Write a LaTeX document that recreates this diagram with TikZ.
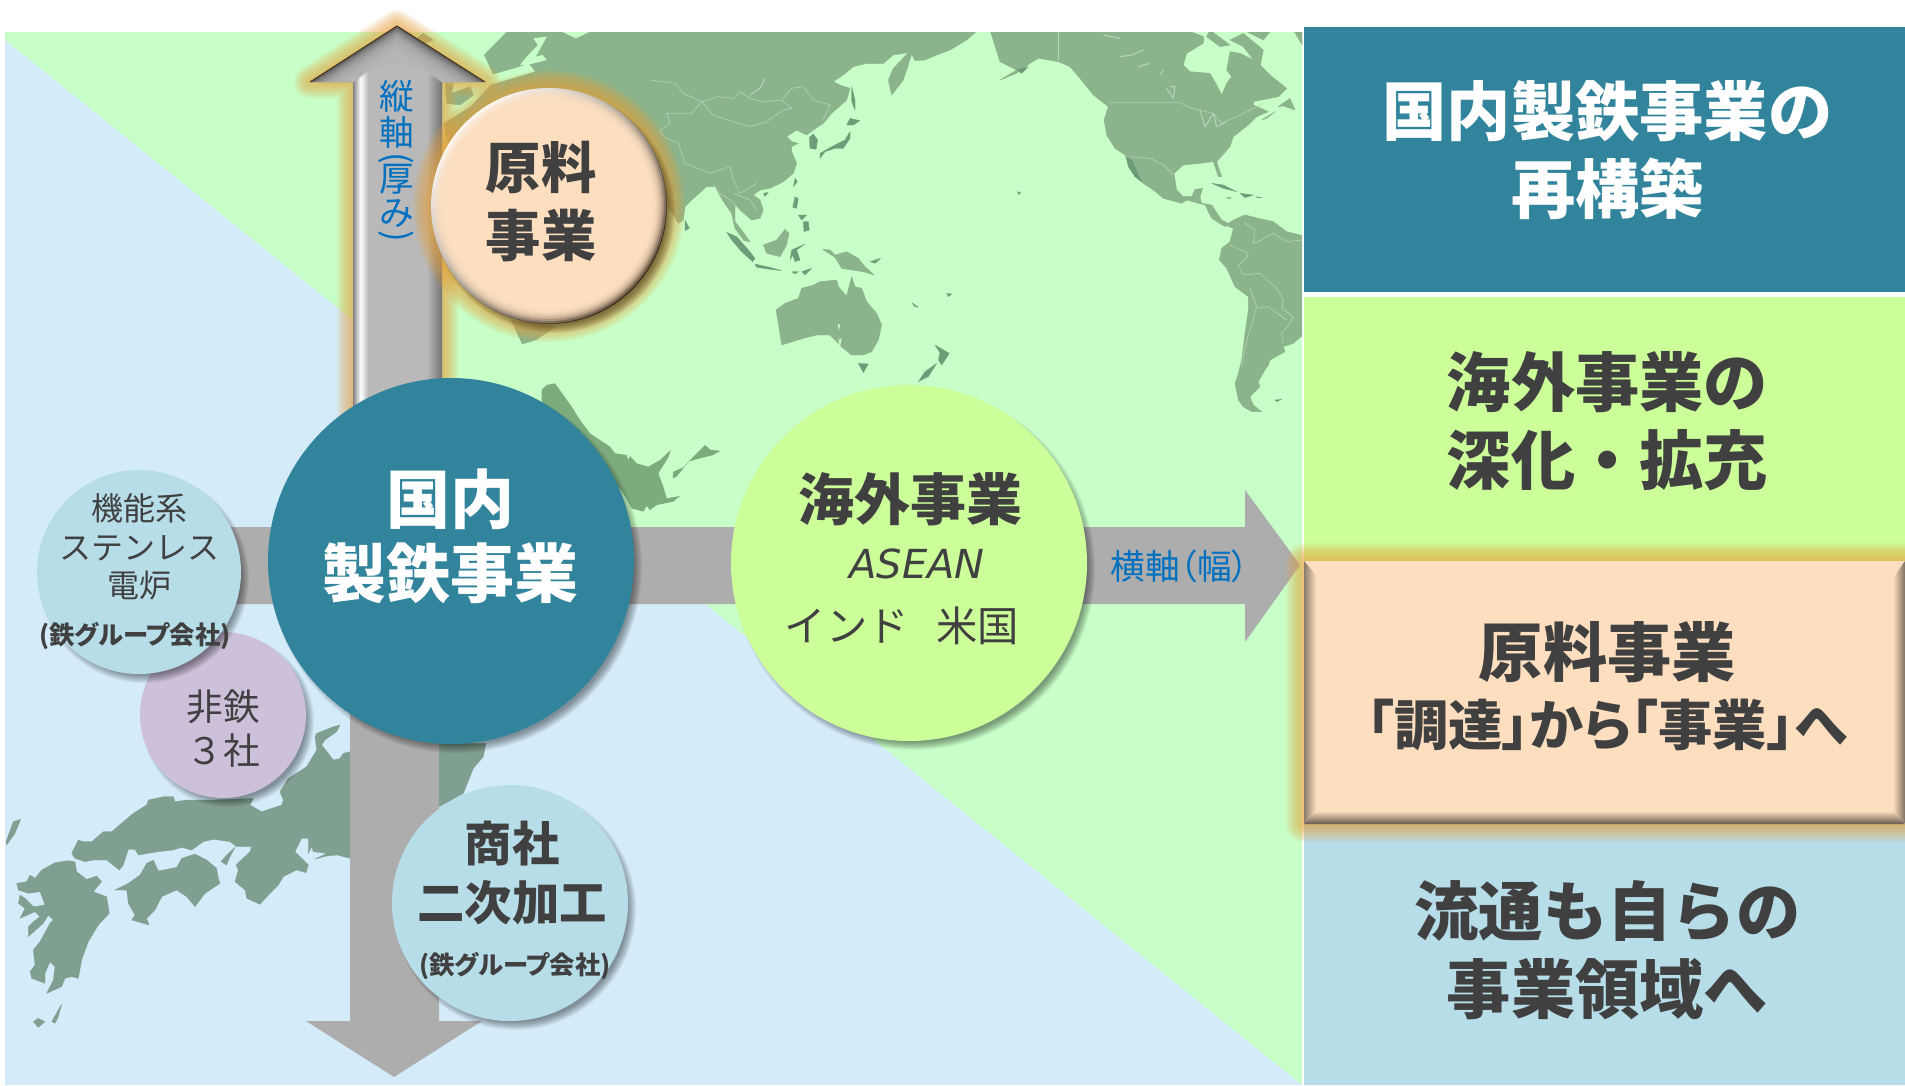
\documentclass[tikz,border=0pt]{standalone}
\usepackage{fontspec}
\newfontfamily\jp{Noto Sans CJK JP}
\newfontfamily\jpp[RawFeature={+palt}]{Noto Sans CJK JP}
\newfontfamily\lat{DejaVu Sans}
\definecolor{bggreen}{HTML}{C8FFC8}
\definecolor{bgblue}{HTML}{D4ECFA}
\definecolor{mapc}{HTML}{8CB48C}
\definecolor{mapd}{HTML}{6C9C78}
\definecolor{mapline}{HTML}{B4D4B4}
\definecolor{mapj}{HTML}{7F9F90}
\definecolor{maph}{HTML}{7CAB7E}
\definecolor{teal}{HTML}{31849B}
\definecolor{lime}{HTML}{CCFF99}
\definecolor{peach}{HTML}{FDDFC0}
\definecolor{iceblue}{HTML}{B7DDE8}
\definecolor{lilac}{HTML}{CCC0DA}
\definecolor{ink}{HTML}{404040}
\definecolor{labelblue}{HTML}{0070C0}
\definecolor{arrowgrey}{HTML}{ADADAD}
\definecolor{arrowlight}{HTML}{B9B9B9}
\definecolor{glowc}{HTML}{E8A038}
\tikzset{
  crop/.style 2 args={x=0.25pt,y=-0.25pt,xshift=#1*0.75pt,yshift=-#2*0.75pt},
  land/.style={fill=mapc,draw=mapc,line width=0.3pt,line join=round},
  isle/.style={fill=mapd,draw=mapd,line width=0.2pt,line join=round},
  hole/.style={fill=bggreen,draw=none},
  border/.style={draw=mapline,line width=0.45pt,line join=round},
  lake/.style={draw=mapline,line width=0.8pt,line join=round},
  jland/.style={fill=mapj,draw=mapj,line width=0.2pt,line join=round},
  disc/.style={circle,minimum size=#1*1.5pt,inner sep=0pt,draw=none},
  lab/.style={inner sep=0pt,align=center,text=ink},
  headA/.style={lab,font=\jp\bfseries\fontsize{48.2}{58.5}\selectfont},
  headW/.style={headA,text=white},
  headM/.style={lab,font=\jp\bfseries\fontsize{42}{42}\selectfont},
  headS/.style={lab,font=\jp\bfseries\fontsize{41.5}{51}\selectfont},
  headC/.style={lab,font=\jp\bfseries\fontsize{35.5}{44}\selectfont},
  small/.style={lab,font=\jp\fontsize{24}{29}\selectfont},
  tiny/.style={lab,font=\jpp\bfseries\fontsize{19}{19}\selectfont},
  axislab/.style={inner sep=0pt,text=labelblue,font=\jp\fontsize{26}{26}\selectfont},
}
\newcommand\softshadow[3]{\foreach \i in {0,...,8}{\fill[black,opacity=.05] ({#1+5},{#2+6}) circle[radius={#3+3-\i}];}}
\newcommand\softglow[3]{\foreach \i in {18,16,...,2}{\fill[glowc,opacity=.11] (#1,#2) circle[radius={#3+\i}];}}
\begin{document}
\begin{tikzpicture}[x=0.75pt,y=-0.75pt]
\useasboundingbox (0,0) rectangle (1905,1085);
\fill[white] (0,0) rectangle (1905,1085);
\fill[bggreen] (5,32) rectangle (1302,1085);
\begin{scope}
\clip (5,32) rectangle (1302,1085);
% Europe and Africa, hidden for the most part
\begin{scope}[x=0.3348pt,y=-0.25pt]
\fill[land] (1135,96) -- (1085,165) -- (1105,222) -- (1150,205) -- (1185,190) -- (1200,215) -- (1100,255) -- (1055,320) -- (995,370) -- (1005,445) -- (1100,700) -- (1300,700) -- (1456,560) -- (1500,96) -- cycle;
\fill[land] (1145,960) -- (1170,1032) -- (1200,1020) -- (1245,980) -- cycle;
\fill[hole] (1195,115) -- (1205,135) -- (1180,170) -- (1165,195) -- (1180,195) -- (1225,180) -- (1215,165) -- (1200,170) -- (1225,110) -- cycle;
\fill[hole] (1260,96) -- (1290,115) -- (1320,96) -- cycle;
\end{scope}
\begin{scope}[crop={270}{15}]
\fill[land] (525,205) -- (550,205) -- (545,235) -- (600,215) -- (610,240) -- (570,270) -- (530,265) -- cycle;
\fill[land] (440,70) -- (460,55) -- (490,75) -- (465,85) -- cycle;
\end{scope}
% East Asia
\begin{scope}[crop={650}{30}]
\fill[land] (0,0) -- (984,0) -- (950,30) -- (900,60) -- (860,75) -- (825,90) -- (795,92) -- (785,72) -- (770,120) -- (760,150) -- (725,195) -- (715,150) -- (730,115) -- (775,68) -- (730,75) -- (700,100) -- (650,100) -- (610,110) -- (580,135) -- (550,155) -- (570,165) -- (600,175) -- (590,210) -- (545,250) -- (520,280) -- (490,300) -- (470,315) -- (440,300) -- (410,320) -- (425,335) -- (445,340) -- (425,350) -- (425,365) -- (440,400) -- (430,430) -- (400,455) -- (360,475) -- (330,480) -- (310,495) -- (330,510) -- (340,540) -- (330,565) -- (305,570) -- (270,540) -- (255,525) -- (255,575) -- (275,600) -- (300,635) -- (282,632) -- (255,595) -- (250,575) -- (245,550) -- (220,515) -- (195,470) -- (170,470) -- (125,510) -- (105,530) -- (100,570) -- (85,580) -- (55,530) -- (0,500) -- cycle;
\fill[isle] (478,322) -- (490,312) -- (503,330) -- (498,358) -- (480,355) -- cycle;
\fill[isle] (605,170) -- (615,210) -- (615,240) -- (605,215) -- cycle;
\fill[isle] (600,265) -- (630,272) -- (610,285) -- (590,285) -- cycle;
\fill[isle] (600,305) -- (600,325) -- (580,355) -- (555,355) -- (525,365) -- (510,385) -- (510,370) -- (545,350) -- (585,330) -- cycle;
\fill[isle] (435,445) -- (442,455) -- (430,470) -- cycle;
\fill[isle] (340,490) -- (355,487) -- (345,500) -- cycle;
\fill[land] (885,35) -- (900,40) -- (900,48) -- cycle;
\draw[border] (0,150) -- (40,155) -- (75,160) -- (100,190) -- (155,215) -- (205,200) -- (250,205) -- (270,185) -- (300,205) -- (340,215) -- (395,210) -- (425,175) -- (460,170) -- (490,210) -- (540,225) -- (520,270);
\draw[border] (155,215) -- (190,255) -- (250,275) -- (300,290) -- (350,275) -- (400,240) -- (425,235) -- (395,210);
\draw[border] (155,215) -- (125,250) -- (50,250) -- (60,280) -- (30,300) -- (40,320) -- (85,340) -- (105,400) -- (180,430) -- (240,410) -- (250,450) -- (270,490) -- (320,460);
\draw[lake] (345,145) -- (330,175) -- (300,195);
\draw[border] (190,465) -- (210,490) -- (240,510) -- (270,540);
\draw[border] (250,490) -- (300,510) -- (320,540);
\end{scope}
% Indonesia and Australia
\begin{scope}[crop={670}{170}]
\fill[isle] (45,150) -- (58,175) -- (45,182) -- cycle;
\fill[isle] (170,187) -- (200,200) -- (235,240) -- (255,265) -- (248,275) -- (215,245) -- (185,210) -- cycle;
\fill[isle] (255,282) -- (300,292) -- (335,302) -- (300,298) -- (260,292) -- cycle;
\fill[isle] (365,305) -- (385,305) -- (375,312) -- cycle;
\fill[isle] (395,305) -- (425,295) -- (405,315) -- cycle;
\fill[land] (280,225) -- (320,210) -- (345,178) -- (357,190) -- (350,225) -- (330,260) -- (290,250) -- cycle;
\fill[isle] (365,240) -- (405,222) -- (380,240) -- (390,270) -- (375,275) -- (368,255) -- (360,270) -- cycle;
\fill[land] (458,238) -- (480,240) -- (495,255) -- (530,245) -- (565,265) -- (585,290) -- (612,315) -- (580,305) -- (545,300) -- (515,295) -- (495,262) -- cycle;
\fill[isle] (600,275) -- (632,265) -- (615,280) -- cycle;
\fill[isle] (375,80) -- (385,85) -- (380,115) -- (368,112) -- cycle;
\fill[isle] (400,155) -- (415,155) -- (418,180) -- (402,185) -- cycle;
\fill[isle] (385,135) -- (410,135) -- (395,150) -- cycle;
\fill[land] (318,420) -- (345,400) -- (385,385) -- (395,355) -- (430,345) -- (450,335) -- (500,330) -- (505,350) -- (530,378) -- (545,320) -- (555,350) -- (575,355) -- (590,395) -- (620,430) -- (635,465) -- (625,510) -- (605,545) -- (580,555) -- (545,555) -- (520,535) -- (500,515) -- (480,495) -- (440,495) -- (400,505) -- (335,525) -- (325,460) -- cycle;
\fill[hole] (503,462) -- (510,465) -- (506,482) -- cycle;
\fill[hole] (505,510) -- (515,505) -- (510,530) -- cycle;
\fill[isle] (565,580) -- (595,582) -- (580,608) -- cycle;
\fill[isle] (795,525) -- (838,550) -- (815,585) -- (805,570) -- (810,548) -- cycle;
\fill[isle] (800,580) -- (775,620) -- (745,635) -- (765,605) -- cycle;
\fill[isle] (725,398) -- (745,412) -- (735,410) -- cycle;
\fill[isle] (830,370) -- (845,372) -- (835,380) -- cycle;
\end{scope}
% North and Central America
\begin{scope}[crop={1000}{30}]
\fill[land] (-30,0) -- (0,95) -- (30,110) -- (50,120) -- (0,150) -- (50,130) -- (90,100) -- (115,85) -- (175,95) -- (210,110) -- (240,145) -- (280,195) -- (325,230) -- (312,270) -- (320,315) -- (345,355) -- (375,375) -- (405,440) -- (430,460) -- (460,480) -- (490,505) -- (545,520) -- (560,510) -- (615,525) -- (635,565) -- (675,590) -- (685,580) -- (665,570) -- (635,525) -- (605,520) -- (600,500) -- (608,475) -- (585,478) -- (575,500) -- (550,500) -- (530,480) -- (522,430) -- (550,405) -- (600,400) -- (640,395) -- (655,440) -- (665,440) -- (650,395) -- (690,350) -- (700,320) -- (745,285) -- (770,260) -- (805,245) -- (760,225) -- (760,215) -- (835,200) -- (860,175) -- (810,135) -- (790,115) -- (770,95) -- (720,70) -- (690,65) -- (680,120) -- (695,140) -- (680,160) -- (665,195) -- (650,165) -- (630,130) -- (570,125) -- (550,105) -- (560,70) -- (610,40) -- (610,20) -- (560,0) -- cycle;
\fill[land] (620,20) -- (660,50) -- (690,45) -- (630,0) -- cycle;
\fill[land] (690,30) -- (730,10) -- (790,60) -- (780,110) -- (760,90) -- (730,50) -- cycle;
\fill[land] (730,0) -- (815,0) -- (790,30) -- cycle;
\fill[land] (880,0) -- (906,0) -- (906,45) -- cycle;
\fill[land] (835,230) -- (870,205) -- (885,240) -- (850,228) -- cycle;
\fill[land] (785,270) -- (825,245) -- (800,265) -- cycle;
\fill[isle] (378,380) -- (395,390) -- (425,455) -- (405,440) -- (385,410) -- cycle;
\fill[isle] (635,460) -- (670,465) -- (710,485) -- (670,475) -- cycle;
\fill[isle] (720,490) -- (760,495) -- (735,503) -- cycle;
\fill[isle] (770,500) -- (785,503) -- (770,503) -- cycle;
\fill[isle] (680,503) -- (695,503) -- (685,506) -- cycle;
\fill[isle] (52,485) -- (62,488) -- (56,494) -- cycle;
\fill[isle] (50,120) -- (85,110) -- (65,130) -- cycle;
\draw[border] (175,5) -- (175,90);
\draw[border] (325,218) -- (540,218) -- (575,235) -- (640,250) -- (665,280) -- (700,265) -- (750,240) -- (790,220);
\draw[border] (380,380) -- (450,385) -- (490,405) -- (520,435);
\draw[lake] (360,80) -- (395,75) -- (430,60);
\draw[lake] (415,110) -- (450,100);
\draw[lake] (480,135) -- (490,120);
\draw[lake] (500,175) -- (520,205) -- (525,170) -- (510,170);
\draw[lake] (600,240) -- (615,290) -- (640,250) -- (650,290) -- (680,275);
\draw[lake] (310,15) -- (360,25);
\end{scope}
% South America
\begin{scope}[crop={1130}{200}]
\fill[land] (270,70) -- (295,70) -- (310,60) -- (345,45) -- (385,55) -- (430,65) -- (470,95) -- (530,110) -- (530,395) -- (490,430) -- (460,440) -- (465,455) -- (420,480) -- (415,495) -- (405,510) -- (385,545) -- (390,560) -- (360,590) -- (370,615) -- (395,635) -- (365,635) -- (340,620) -- (325,600) -- (315,550) -- (325,520) -- (335,480) -- (345,400) -- (355,330) -- (355,290) -- (315,260) -- (290,205) -- (268,180) -- (275,145) -- (300,125) -- (310,85) -- cycle;
\fill[isle] (435,600) -- (455,598) -- (440,605) -- cycle;
\draw[border] (345,70) -- (375,90) -- (370,130) -- (385,125) -- (430,100) -- (470,125) -- (516,120);
\draw[border] (300,135) -- (355,160) -- (350,175) -- (325,195) -- (340,225) -- (390,220) -- (440,265) -- (460,300) -- (455,325) -- (490,350) -- (480,370) -- (455,400) -- (460,430);
\draw[border] (360,265) -- (380,320) -- (345,440) -- (335,500);
\draw[border] (380,325) -- (415,320) -- (470,360);
\end{scope}
\end{scope}
% blue part of the background
\fill[bgblue] (5,40) -- (1302,1085) -- (5,1085) -- cycle;
% Japan
\begin{scope}[crop={0}{790}]
\fill[jland] (1000,-190) -- (1020,-195) -- (1010,-175) -- (975,-150) -- (965,-135) -- (985,-110) -- (1000,-90) -- (1020,-95) -- (1030,-110) -- (1050,-115) -- (1315,-140) -- (1458,-140) -- (1450,-100) -- (1420,-65) -- (1390,10) -- (1315,52) -- (1050,205) -- (1012,195) -- (980,198) -- (945,207) -- (980,190) -- (940,185) -- (935,170) -- (925,190) -- (925,145) -- (905,145) -- (885,185) -- (925,225) -- (918,248) -- (890,240) -- (850,260) -- (835,285) -- (810,310) -- (780,343) -- (740,325) -- (735,300) -- (705,275) -- (715,240) -- (708,225) -- (750,185) -- (755,170) -- (710,170) -- (690,155) -- (640,148) -- (610,155) -- (575,180) -- (545,172) -- (520,180) -- (475,185) -- (415,195) -- (405,178) -- (385,178) -- (370,225) -- (358,240) -- (320,210) -- (280,210) -- (255,215) -- (225,205) -- (215,190) -- (235,150) -- (250,155) -- (275,155) -- (310,125) -- (335,125) -- (370,95) -- (400,70) -- (440,45) -- (445,30) -- (490,20) -- (520,20) -- (525,35) -- (560,30) -- (640,30) -- (760,25) -- (750,45) -- (785,65) -- (845,45) -- (850,30) -- (840,5) -- (865,-35) -- (920,-70) -- (950,-120) -- (945,-160) -- (950,-170) -- cycle;
\fill[jland] (705,172) -- (680,195) -- (663,215) -- (680,225) -- (690,200) -- cycle;
\fill[jland] (345,300) -- (385,280) -- (420,255) -- (440,220) -- (460,210) -- (475,243) -- (530,232) -- (545,205) -- (585,192) -- (620,210) -- (650,235) -- (655,265) -- (660,280) -- (615,310) -- (585,350) -- (560,320) -- (530,300) -- (485,320) -- (465,360) -- (440,385) -- (447,405) -- (395,390) -- (405,375) -- (385,340) -- (380,300) -- cycle;
\fill[jland] (50,280) -- (80,275) -- (90,255) -- (105,265) -- (125,240) -- (165,218) -- (205,212) -- (225,215) -- (230,245) -- (260,268) -- (290,258) -- (305,275) -- (280,305) -- (320,320) -- (328,370) -- (295,405) -- (265,455) -- (245,510) -- (235,565) -- (215,560) -- (195,565) -- (185,590) -- (140,610) -- (160,570) -- (165,530) -- (150,515) -- (135,550) -- (135,580) -- (95,565) -- (90,545) -- (105,525) -- (100,480) -- (120,455) -- (150,400) -- (160,390) -- (145,375) -- (130,400) -- (85,440) -- (85,410) -- (100,395) -- (120,380) -- (105,365) -- (60,385) -- (75,355) -- (55,340) -- (60,315) -- (75,325) -- (100,350) -- (135,345) -- (120,305) -- (85,310) -- (55,300) -- cycle;
\fill[jland] (155,695) -- (185,642) -- (175,680) -- (165,700) -- cycle;
\fill[jland] (100,695) -- (115,685) -- (135,695) -- (115,712) -- cycle;
\fill[jland] (40,95) -- (62,88) -- (45,130) -- (20,165) -- (18,155) -- cycle;
\end{scope}
% Hokkaido
\begin{scope}[crop={500}{370}]
\fill[maph] (125,60) -- (140,45) -- (165,40) -- (190,75) -- (215,110) -- (240,150) -- (270,190) -- (330,230) -- (345,250) -- (380,255) -- (385,270) -- (390,258) -- (410,280) -- (445,290) -- (480,270) -- (512,240) -- (505,262) -- (475,310) -- (490,350) -- (500,385) -- (540,378) -- (520,395) -- (470,405) -- (450,420) -- (440,408) -- (430,425) -- (395,415) -- (370,370) -- (300,280) -- (200,150) -- (125,95) -- cycle;
\fill[maph] (615,225) -- (632,240) -- (662,242) -- (640,255) -- (600,265) -- (565,275) -- (550,295) -- (530,320) -- (518,325) -- (520,305) -- (555,290) -- (570,270) -- (600,240) -- cycle;
\end{scope}
% panels
\fill[teal] (1304,27) rectangle (1905,292);
\fill[lime] (1304,297) rectangle (1905,565);
\fill[iceblue] (1304,820) rectangle (1905,1085);
\node[headW] (p1) at (1607.5,150.5) {国内製鉄事業の\\再構築};
\node[headA] (p2) at (1607.5,421) {海外事業の\\深化・拡充};
\node[headA] (p4) at (1607.5,950) {流通も自らの\\事業領域へ};
% horizontal arrow
\fill[arrowgrey] (230,527) -- (1245,527) -- (1245,490) -- (1300,565) -- (1245,642) -- (1245,604) -- (230,604) -- cycle;
% downward arrow
\fill[arrowgrey] (350,700) -- (439,700) -- (439,1021) -- (482,1021) -- (394,1077) -- (306,1021) -- (350,1021) -- cycle;
% upward arrow: glow, shaft, bevelled head
\foreach \w in {32,28,...,4}{\draw[glowc,opacity=.11,line width={\w*0.75pt},line join=round] (397,26) -- (485,82) -- (442,82) -- (442,420) -- (353,420) -- (353,82) -- (310,82) -- cycle;}
\fill[arrowlight] (397,26) -- (485,82) -- (442,82) -- (442,420) -- (353,420) -- (353,82) -- (310,82) -- cycle;
\shade[left color=arrowlight!70!black,right color=arrowlight,middle color=white] (353,82) -- (368,70) -- (368,420) -- (353,420) -- cycle;
\shade[left color=arrowlight,right color=black!55] (427,70) -- (442,82) -- (442,420) -- (427,420) -- cycle;
\fill[black!60] (397,26) -- (485,82) -- (442,82) -- (427,70) -- (368,70) -- (353,82) -- (310,82) -- cycle;
\foreach \k in {1,...,9}{\fill[arrowlight,opacity=.35] (397,{26+\k*3}) -- ({485-\k*5},82) -- (442,82) -- (427,70) -- (368,70) -- (353,82) -- ({310+\k*5},82) -- cycle;}
\fill[arrowlight] (397,62) -- (427,71) -- (368,71) -- cycle;
\draw[black!65!brown,line width=0.7pt,line join=round] (310,82) -- (397,26) -- (485,82);
\node[axislab] (v1) at (396.5,96) {縦};
\node[axislab] (v2) at (396.5,132) {軸};
\node[axislab,rotate=-90] (v3) at (396.5,158) {(};
\node[axislab] (v4) at (396.5,179) {厚};
\node[axislab] (v5) at (396.5,214) {み};
\node[axislab,rotate=-90] (v6) at (396.5,236) {)};
\node[axislab,font=\jpp\fontsize{26}{26}\selectfont] (hlabel) at (1180,566) {横軸（幅）};
% peach box
\begin{scope}
\clip (0,0) rectangle (1905,1085);
\foreach \w in {36,32,...,4}{\draw[glowc,opacity=.1,line width={\w*0.75pt},line join=round] (1304,561) rectangle (1960,824);}
\end{scope}
\fill[peach] (1304,561) rectangle (1905,824);
\shade[top color=peach,middle color=white,bottom color=peach] (1304,561) -- (1905,561) -- (1893,578) -- (1316,578) -- cycle;
\shade[left color=black!45!peach,right color=peach] (1304,561) -- (1316,575) -- (1316,810) -- (1304,824) -- cycle;
\shade[top color=peach,bottom color=black!60!peach] (1304,824) -- (1316,811) -- (1893,811) -- (1905,824) -- cycle;
\shade[left color=peach,right color=black!50!peach] (1905,561) -- (1893,578) -- (1893,811) -- (1905,824) -- cycle;
\node[lab,font=\jp\bfseries\fontsize{48.2}{48.2}\selectfont] (p3a) at (1607.5,652) {原料事業};
\node[lab,font=\jpp\bfseries\fontsize{40.7}{40.7}\selectfont] (p3b) at (1607,725) {「調達」から「事業」へ};
% raw material circle
\softglow{549}{206}{118}
\softshadow{549}{206}{118}
\shade[left color=white,right color=black!75!brown,shading angle=45] (549,206) circle[radius=118];
\foreach \r/\o in {117/.3,115/.3,113/.4,111/.4,109/.5,107/.6,105/.7}{\fill[peach,opacity=\o] (549,206) circle[radius=\r];}
\node[disc=103,fill=peach] (c0) at (549,206) {};
\node[headS] (t0) at (541,202) {原料\\事業};
% central circle
\softshadow{451}{561}{183}
\node[disc=183,fill=teal] (c1) at (451,561) {};
\node[headW,font=\jp\bfseries\fontsize{48}{55.5}\selectfont] (t1) at (450,536) {国内\\製鉄事業};
% overseas circle
\softshadow{909}{563}{178}
\node[disc=178,fill=lime] (c2) at (909,563) {};
\node[headM] (t2) at (910,499) {海外事業};
\node[lab,font=\lat\itshape\fontsize{30}{30}\selectfont] (t2b) at (917,564) {ASEAN};
\node[lab,font=\jp\fontsize{31}{31}\selectfont] (t2c) at (902,626) {インド\hspace{21pt}米国};
% non-ferrous circle
\softshadow{223}{715}{83}
\node[disc=83,fill=lilac] (c3) at (223,715) {};
\node[lab,font=\jp\fontsize{27.5}{33}\selectfont] (t3) at (223,729) {非鉄\\３社};
% functional circle
\softshadow{139}{572}{102}
\node[disc=102,fill=iceblue] (c4) at (139,572) {};
\node[small] (t4) at (139,547) {機能系\\ステンレス\\電炉};
\node[tiny] (t4b) at (135,636) {(鉄グループ会社)};
% trading circle
\softshadow{510}{903}{118}
\node[disc=118,fill=iceblue] (c5) at (510,903) {};
\node[headC] (t5) at (512,873) {商社\\二次加工};
\node[tiny] (t5b) at (515,966) {(鉄グループ会社)};
\end{tikzpicture}
\end{document}
